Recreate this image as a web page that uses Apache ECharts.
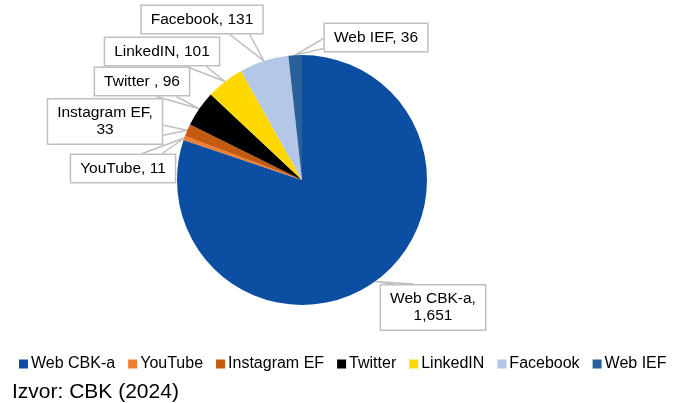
<!DOCTYPE html>
<html>
<head>
<meta charset="utf-8">
<script src="https://cdn.jsdelivr.net/npm/echarts@6/dist/echarts.min.js"></script>
<style>
html,body{margin:0;padding:0;background:#fff;}
#c{width:675px;height:403px;}
</style>
</head>
<body>
<div id="c"></div>
<script>
const categories = ['Web CBK-a', 'YouTube', 'Instagram EF', 'Twitter', 'LinkedIN', 'Facebook', 'Web IEF'];
const values = [1651, 11, 33, 96, 101, 131, 36];
const labelNames = ['Web CBK-a', 'YouTube', 'Instagram EF', 'Twitter ', 'LinkedIN', 'Facebook', 'Web IEF'];
const colors = ['#0b4ea2', '#ed7d31', '#c55a11', '#000000', '#ffd800', '#b4c7e7', '#2a6099'];
const sourceText = 'Izvor: CBK (2024)';

const labelPos = [
  [433, 307.5], [123, 168.5], [105, 121.5], [142, 81.5], [162, 51.5], [202, 19.5], [376, 37.5]
];
const FONT = '"Liberation Sans", Arial, sans-serif';

function clamp(v, lo, hi) { return Math.max(lo, Math.min(hi, v)); }

const chart = echarts.init(document.getElementById('c'));
chart.setOption({
  animation: false,
  color: colors,
  legend: {
    top: 351,
    left: 14,
    itemWidth: 9,
    itemHeight: 9,
    itemGap: 13,
    icon: 'rect',
    textStyle: { fontFamily: FONT, fontSize: 16, color: '#000', padding: [0, 0, 0, -2] },
    data: categories
  },
  graphic: [{
    type: 'text',
    left: 12,
    top: 382,
    style: { text: sourceText, font: '21px ' + FONT, fill: '#000' }
  }],
  series: [{
    type: 'pie',
    center: [302, 180],
    radius: [0, 125],
    startAngle: 90,
    clockwise: true,
    data: categories.map((c, i) => ({ name: c, value: values[i] })),
    label: {
      show: true,
      formatter: p => {
        const v = values[p.dataIndex].toLocaleString('en-US');
        const n = labelNames[p.dataIndex];
        if (p.dataIndex === 0 || p.dataIndex === 2) return n + ',\n' + v;
        return n + ', ' + v;
      },
      fontFamily: FONT,
      fontSize: 15.5,
      lineHeight: 17,
      color: '#000',
      align: 'center',
      backgroundColor: '#fff',
      borderColor: '#bfbfbf',
      borderWidth: 1.5,
      padding: [5, 9]
    },
    labelLine: {
      show: true,
      lineStyle: { color: '#bfbfbf', width: 1.5 },
      length: 10,
      length2: 10
    },
    labelLayout: p => {
      const [cx, cy] = labelPos[p.dataIndex];
      const w = p.labelRect.width, h = p.labelRect.height;
      const L = cx - w / 2, R = cx + w / 2, T = cy - h / 2, B = cy + h / 2;
      const a = p.labelLinePoints ? p.labelLinePoints[0] : [cx, cy];
      const nx = Math.abs(a[0] - cx) / (w / 2);
      const ny = Math.abs(a[1] - cy) / (h / 2);
      let b1, b2;
      if (ny > nx) {
        const ey = a[1] < cy ? T : B;
        const mx = clamp(a[0], L + 24, R - 24);
        b1 = [mx - 10, ey]; b2 = [mx + 10, ey];
      } else {
        const ex = a[0] < cx ? L : R;
        const my = clamp(a[1], T + 9, B - 9);
        b1 = [ex, my - 5]; b2 = [ex, my + 5];
      }
      return {
        x: cx,
        y: cy,
        align: 'center',
        verticalAlign: 'middle',
        labelLinePoints: [b1, a, b2]
      };
    }
  }]
});
</script>
</body>
</html>
